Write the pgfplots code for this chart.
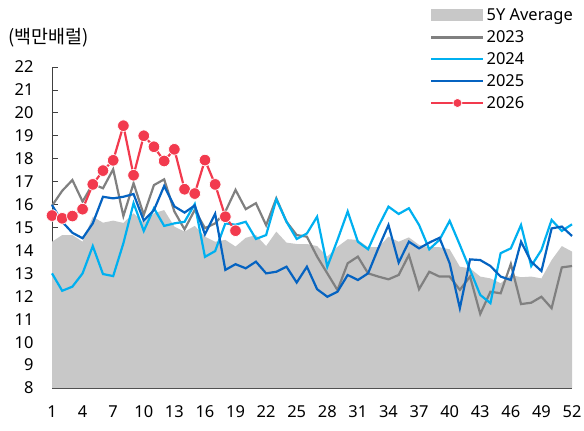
\documentclass[border=0pt]{standalone}
\usepackage{pgfplots}
\pgfplotsset{compat=1.18}
\usepackage{fontspec}
\setmainfont{Noto Sans}
\newfontfamily\kr{Noto Sans CJK KR}
\definecolor{avg}{HTML}{C8C8C8}
\definecolor{c23}{HTML}{808080}
\definecolor{c24}{HTML}{00B0F0}
\definecolor{c25}{HTML}{0563C1}
\definecolor{c26}{HTML}{F23A4E}
\pgfplotsset{
  linelegend/.style={legend image code/.code={\draw[##1, line width=2.4bp] (0bp,0bp) -- (52bp,0bp);}},
  marklegend/.style={legend image code/.code={\draw[##1, line width=2.4bp, mark repeat=2, mark phase=2, mark size=4.5bp] plot coordinates {(0bp,0bp) (26bp,0bp) (52bp,0bp)};}},
  arealegend/.style={legend image code/.code={\fill[avg] (0bp,-6bp) rectangle (52bp,6bp);}},
}
\pgfplotstableread{
w v
1 14.38
2 14.67
3 14.67
4 14.38
5 15.47
6 15.21
7 15.30
8 15.20
9 15.62
10 15.20
11 15.62
12 15.76
13 15.04
14 14.82
15 15.07
16 14.60
17 14.38
18 14.46
19 14.17
20 14.55
21 14.67
22 14.19
23 14.82
24 14.34
25 14.28
26 14.28
27 14.19
28 13.73
29 14.16
30 14.49
31 14.46
32 14.14
33 14.14
34 14.60
35 14.38
36 14.57
37 14.24
38 14.14
39 14.14
40 14.05
41 13.29
42 13.22
43 12.86
44 12.78
45 12.57
46 12.93
47 12.83
48 12.86
49 12.78
50 13.58
51 14.19
52 13.95
}\tavg
\pgfplotstableread{
w v
1 15.95
2 16.60
3 17.07
4 16.13
5 16.90
6 16.71
7 17.54
8 15.50
9 16.93
10 15.55
11 16.85
12 17.10
13 15.70
14 14.92
15 15.77
16 14.97
17 15.18
18 15.69
19 16.64
20 15.80
21 16.06
22 15.10
23 16.27
24 15.25
25 14.67
26 14.60
27 13.73
28 13.00
29 12.27
30 13.44
31 13.73
32 13.00
33 12.86
34 12.74
35 12.93
36 13.80
37 12.31
38 13.07
39 12.86
40 12.86
41 12.28
42 12.86
43 11.23
44 12.20
45 12.13
46 13.41
47 11.66
48 11.72
49 11.98
50 11.48
51 13.26
52 13.32
}\tA
\pgfplotstableread{
w v
1 13.00
2 12.24
3 12.42
4 13.00
5 14.19
6 12.97
7 12.88
8 14.31
9 16.06
10 14.85
11 15.84
12 15.07
13 15.18
14 15.25
15 16.02
16 13.72
17 13.97
18 15.18
19 15.12
20 15.25
21 14.50
22 14.67
23 16.23
24 15.25
25 14.50
26 14.74
27 15.47
28 13.29
29 14.46
30 15.70
31 14.38
32 14.05
33 15.04
34 15.91
35 15.59
36 15.84
37 15.11
38 14.05
39 14.46
40 15.29
41 14.24
42 13.15
43 12.06
44 11.70
45 13.88
46 14.09
47 15.11
48 13.32
49 14.02
50 15.33
51 14.85
52 15.14
}\tB
\pgfplotstableread{
w v
1 15.98
2 15.25
3 14.77
4 14.53
5 15.18
6 16.34
7 16.27
8 16.34
9 16.46
10 15.30
11 15.76
12 16.81
13 15.92
14 15.65
15 15.96
16 14.70
17 15.60
18 13.15
19 13.40
20 13.22
21 13.51
22 13.00
23 13.07
24 13.29
25 12.60
26 13.29
27 12.31
28 11.98
29 12.20
30 12.93
31 12.71
32 13.00
33 14.09
34 15.11
35 13.47
36 14.38
37 14.09
38 14.34
39 14.55
40 13.44
41 11.48
42 13.61
43 13.58
44 13.32
45 12.86
46 12.71
47 14.38
48 13.51
49 13.10
50 14.96
51 15.04
52 14.63
}\tC
\pgfplotstableread{
w v
1 15.52
2 15.40
3 15.50
4 15.80
5 16.88
6 17.48
7 17.93
8 19.44
9 17.28
10 19.00
11 18.52
12 17.90
13 18.41
14 16.67
15 16.48
16 17.94
17 16.88
18 15.47
19 14.86
}\tD
\begin{document}
\begin{tikzpicture}[x=1bp,y=1bp]
\path[use as bounding box] (0,0) rectangle (584,430);
\begin{axis}[
  at={(52bp,42bp)}, anchor=south west,
  scale only axis, width=520bp, height=321bp,
  xmin=1, xmax=52, ymin=8, ymax=22,
  axis x line=bottom, axis y line=left,
  axis line style={-, black!75, line width=0.8pt},
  tick align=inside,
  xtick={1,4,...,52},
  major x tick style={draw=none},
  minor xtick={5,9,...,49},
  minor tick length=5bp,
  minor x tick style={black!75, line width=0.8pt},
  ytick={8,9,...,22},
  major tick length=6bp,
  y tick style={black!75, line width=0.8pt},
  tick label style={font=\fontsize{16.5}{19}\selectfont},
  /pgf/number format/assume math mode=true,
  xticklabel style={yshift=-14bp},
  yticklabel style={xshift=-15bp},
  clip=false,
  legend cell align=left,
  legend style={draw=none, fill=none, at={(0.727,1.188)}, anchor=north west,
    font=\fontsize{16.5}{19}\selectfont, row sep=4.5bp, inner sep=0pt,
    /tikz/every even column/.append style={column sep=3bp}},
]
\addplot[fill=avg, draw=none, arealegend]
  table[x=w,y=v]{\tavg} \closedcycle;
\addlegendentry{5Y Average}
\addplot[c23, line width=2.2bp, no markers, linelegend]
  table[x=w,y=v]{\tA};
\addlegendentry{2023}
\addplot[c24, line width=2.2bp, no markers, linelegend]
  table[x=w,y=v]{\tB};
\addlegendentry{2024}
\addplot[c25, line width=2.2bp, no markers, linelegend]
  table[x=w,y=v]{\tC};
\addlegendentry{2025}
\addplot[c26, line width=2.2bp, mark=*, mark size=5.8bp,
  mark options={fill=c26, draw=white, line width=0.7bp}, marklegend]
  table[x=w,y=v]{\tD};
\addlegendentry{2026}
\end{axis}
\node[anchor=west, font=\kr\fontsize{18.5}{21}\selectfont] at (5bp,392bp) {(백만배럴)};
\end{tikzpicture}
\end{document}
